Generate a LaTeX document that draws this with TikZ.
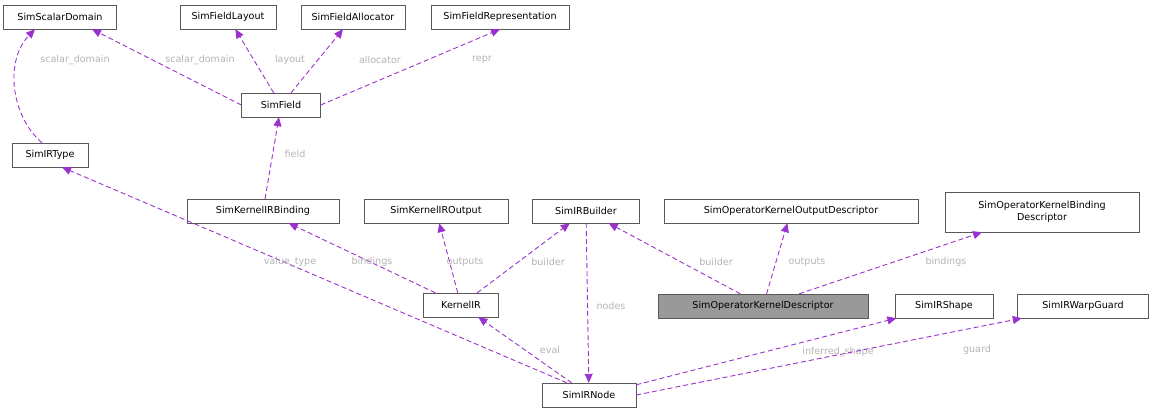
\documentclass[tikz,border=0pt]{standalone}
\usepackage{fontspec}
\setmainfont{DejaVu Sans}
\usetikzlibrary{arrows.meta}
\definecolor{edge}{HTML}{9A32CD}
\definecolor{lab}{HTML}{B4B4B4}
\begin{document}
\begin{tikzpicture}[x=1pt,y=-1pt,
  box/.style={draw=black!65,fill=white,inner sep=0pt,minimum height=24pt,font=\fontsize{9.6}{11.5}\selectfont},
  rel/.style={draw=edge,line width=0.9pt,dash pattern=on 5pt off 3pt,-{Triangle[width=8pt,length=9pt,fill=edge]}},
  lb/.style={text=lab,font=\fontsize{9.6}{11.5}\selectfont,inner sep=1pt}]
\useasboundingbox (0,0) rectangle (1155,413);
\node[box,minimum width=113pt] (sd) at (60,17) {SimScalarDomain};
\node[box,minimum width=96pt] (fl) at (228,17) {SimFieldLayout};
\node[box,minimum width=104pt] (fa) at (353,17) {SimFieldAllocator};
\node[box,minimum width=138pt] (fr) at (500,17) {SimFieldRepresentation};
\node[box,minimum width=79pt] (f) at (281,105) {SimField};
\node[box,minimum width=76pt] (t) at (50,155) {SimIRType};
\node[box,minimum width=152pt] (kb) at (263,211) {SimKernelIRBinding};
\node[box,minimum width=144pt] (ko) at (436,211) {SimKernelIROutput};
\node[box,minimum width=107pt] (b) at (586,211) {SimIRBuilder};
\node[box,minimum width=254pt] (od) at (791,211) {SimOperatorKernelOutputDescriptor};
\node[box,minimum width=194pt,minimum height=40pt,align=center] (bd) at (1042,212) {SimOperatorKernelBinding\\Descriptor};
\node[box,minimum width=75pt] (k) at (461,305) {KernelIR};
\node[box,minimum width=210pt,fill=black!40] (d) at (763,306) {SimOperatorKernelDescriptor};
\node[box,minimum width=98pt] (s) at (944,306) {SimIRShape};
\node[box,minimum width=131pt] (g) at (1083,306) {SimIRWarpGuard};
\node[box,minimum width=94pt] (n) at (589,395) {SimIRNode};
\draw[rel] (f.west) -- ([xshift=32pt]sd.south);
\node[lb] at (200,60) {scalar\_domain};
\draw[rel] (f) -- (fl);
\node[lb] at (290,60) {layout};
\draw[rel] (f) -- (fa);
\node[lb] at (380,60) {allocator};
\draw[rel] (f.east) -- (fr.south);
\node[lb] at (482,60) {repr};
\draw[rel] ([xshift=-8pt]t.north) .. controls (10,115) and (5,60) .. ([xshift=-25pt]sd.south);
\node[lb] at (75,60) {scalar\_domain};
\draw[rel] (kb) -- (f);
\node[lb] at (295,154) {field};
\draw[rel] (k) -- (kb);
\node[lb] at (372,262) {bindings};
\draw[rel] (k) -- (ko);
\node[lb] at (465,262) {outputs};
\draw[rel] (k) -- (b);
\node[lb] at (548,262) {builder};
\draw[rel] ([xshift=25pt]n.north west) -- ([xshift=12pt]t.south);
\node[lb] at (290,262) {value\_type};
\draw[rel] (b) -- (n);
\node[lb] at (611,306) {nodes};
\draw[rel] (n) -- (k);
\node[lb] at (550,350) {eval};
\draw[rel] (d) -- (b);
\node[lb] at (716,262) {builder};
\draw[rel] (d) -- (od);
\node[lb] at (807,262) {outputs};
\draw[rel] (d) -- (bd);
\node[lb] at (946,262) {bindings};
\draw[rel] ([yshift=-2pt]n.north east) -- (s);
\node[lb] at (838,352) {inferred\_shape};
\draw[rel] (n.east) -- (g);
\node[lb] at (977,350) {guard};
\end{tikzpicture}
\end{document}
